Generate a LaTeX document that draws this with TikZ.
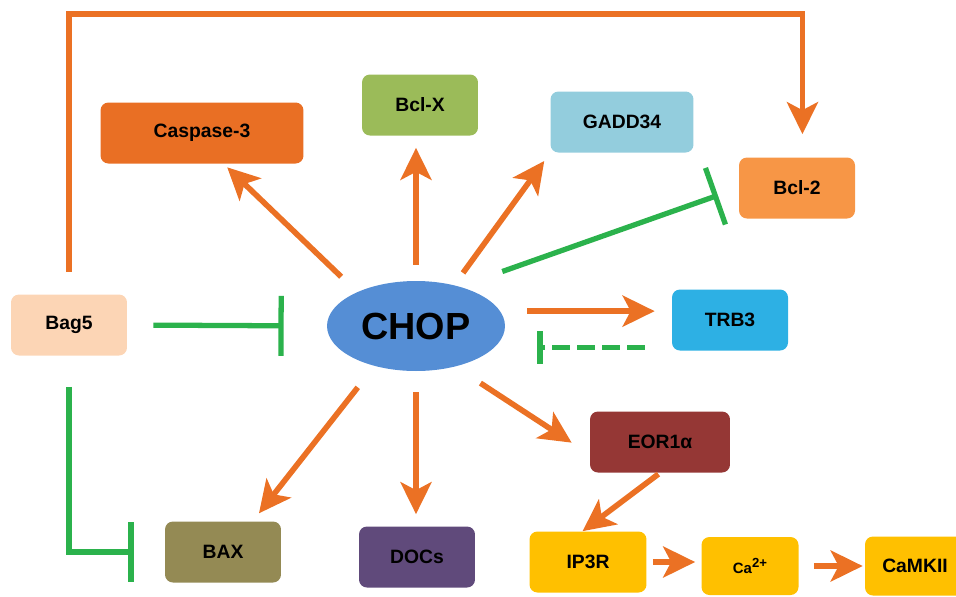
\documentclass[tikz,border=0pt]{standalone}
\usepackage{fontspec}
\setmainfont{Liberation Sans}
\usetikzlibrary{positioning, arrows.meta, shapes.geometric}

\definecolor{casporange}{HTML}{E96F24}
\definecolor{bclxgreen}{HTML}{9BBB59}
\definecolor{gaddblue}{HTML}{93CDDD}
\definecolor{bcltwoorange}{HTML}{F79646}
\definecolor{trbblue}{HTML}{2DB0E4}
\definecolor{bagpeach}{HTML}{FCD5B5}
\definecolor{chopblue}{HTML}{558ED5}
\definecolor{eorred}{HTML}{953735}
\definecolor{ipyellow}{HTML}{FFC000}
\definecolor{baxolive}{HTML}{948A54}
\definecolor{docspurple}{HTML}{604A7B}
\definecolor{actorange}{HTML}{EB7124}
\definecolor{inhgreen}{HTML}{2BB24C}

\begin{document}
\begin{tikzpicture}[x=0.02cm, y=-0.02cm,
    box/.style={rectangle, rounded corners=4.5pt, minimum height=1.22cm, inner sep=0pt, font=\bfseries\fontsize{11}{13}\selectfont},
    act/.style={draw=actorange, line width=3.2pt, -{Stealth[length=0.64cm, width=0.62cm, inset=0.16cm]}},
    inh/.style={draw=inhgreen, line width=3pt, -{Bar[width=1.2cm]}}]
            \useasboundingbox (0,0) rectangle (956,596);

            \node[box, fill=casporange, minimum width=4.06cm] (casp) at (202,133) {Caspase-3};
            \node[box, fill=bclxgreen, minimum width=2.32cm] (bclx) at (420,105) {Bcl-X};
            \node[box, fill=gaddblue, minimum width=2.86cm] (gadd) at (622,122) {GADD34};
            \node[box, fill=bcltwoorange, minimum width=2.32cm] (bcltwo) at (797,188) {Bcl-2};
            \node[box, fill=trbblue, minimum width=2.32cm] (trb) at (730,320) {TRB3};
            \node[box, fill=bagpeach, minimum width=2.32cm] (bag) at (69,325) {Bag5};
            \node[ellipse, fill=chopblue, minimum width=3.56cm, minimum height=1.8cm, inner sep=0pt, font=\bfseries\fontsize{21.5}{25}\selectfont] (chop) at (416,326) {CHOP};
            \node[box, fill=eorred, minimum width=2.8cm] (eor) at (660,442) {EOR1α};
            \node[box, fill=ipyellow, minimum width=2.34cm] (ipr) at (588,562) {IP3R};
            \node[box, fill=ipyellow, minimum width=1.94cm, minimum height=1.16cm, font=\bfseries\fontsize{8.5}{11}\selectfont] (ca) at (750,566) {Ca\raisebox{0.75ex}{\fontsize{7.5}{9}\selectfont 2+}};
            \node[box, fill=ipyellow, minimum width=2.0cm, minimum height=1.18cm] (camk) at (915,566) {CaMKII};
            \node[box, fill=baxolive, minimum width=2.32cm] (bax) at (223,552) {BAX};
            \node[box, fill=docspurple, minimum width=2.32cm] (docs) at (417,557) {DOCs};

            \draw[act, shorten <=0.44cm, shorten >=0.46cm] (bag.north) -- ++(0,-280) -| (bcltwo.80);
            \draw[act, shorten <=0.44cm, shorten >=0.1cm] (chop.150) -- (casp.305);
            \draw[act, shorten <=0.32cm, shorten >=0.24cm] (chop.north) -- (chop.north |- bclx.south);
            \draw[act, shorten <=0.3cm, shorten >=0.2cm] (chop.47) -- (gadd.south west);
            \draw[inh, shorten <=0.9cm, shorten >=0.44cm] (chop.42) -- (bcltwo.west);
            \draw[act, shorten <=0.54cm, shorten >=0.34cm] (chop.10) -- (chop.10 -| trb.west);
            \draw[inh, -{Bar[width=0.66cm]}, dash pattern=on 0.36cm off 0.14cm, shorten <=0.54cm, shorten >=0.64cm] (trb.205) -- (trb.205 -| chop.east);
            \draw[act, shorten <=0.6cm, shorten >=0.43cm] (chop.314) -- (eor.190);
            \draw[act, shorten <=0.04cm] (eor.south) -- (ipr.100);
            \draw[act, shorten <=0.12cm, shorten >=0.12cm] (ipr.east) -- (ipr.east -| ca.west);
            \draw[act, shorten <=0.3cm, shorten >=0.04cm] (ca.east) -- (camk.west);
            \draw[inh, shorten <=0.52cm, shorten >=0.86cm] (bag.east) -- (chop.west);
            \draw[inh, shorten <=0.62cm, shorten >=0.62cm] (bag.south) |- (bax.west);
            \draw[act, shorten <=0.54cm, shorten >=0.2cm] (chop.224) -- (bax.46);
            \draw[act, shorten <=0.42cm, shorten >=0.24cm] (chop.south) -- (chop.south |- docs.north);
        \end{tikzpicture}
\end{document}
